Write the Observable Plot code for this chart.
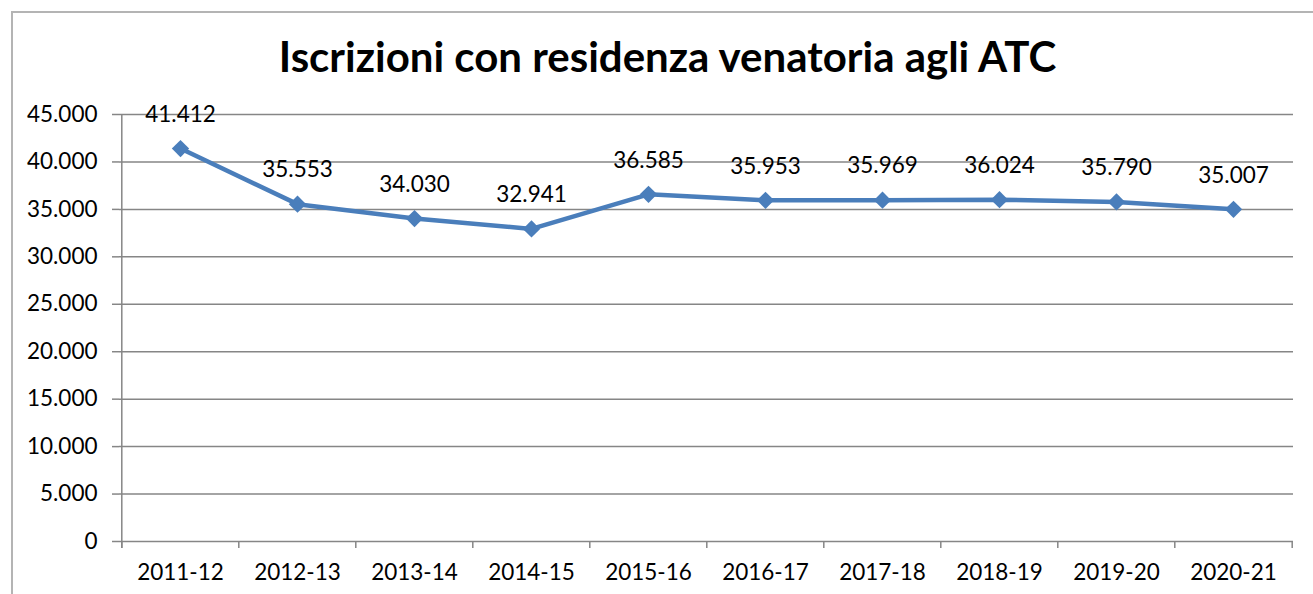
<!DOCTYPE html>
<html>
<head>
<meta charset="utf-8">
<script src="https://cdn.jsdelivr.net/npm/d3@7"></script>
<script src="https://cdn.jsdelivr.net/npm/@observablehq/plot@0.6"></script>
<style>
  body { margin: 0; background: #fff; }
  #wrap { position: relative; width: 1313px; height: 594px; overflow: hidden; font-family: Lato, "Open Sans", sans-serif; }
  #frame { position: absolute; left: 11px; top: 11px; width: 1400px; height: 700px; border: 2px solid #b4b4b4; box-sizing: border-box; }
  #title { position: absolute; left: 11px; width: 1313px; top: 32px; text-align: center; font-weight: 700; font-size: 42px; line-height: 48px; color: #000; }
  #chart { position: absolute; left: 0; top: 0; }
</style>
</head>
<body>
<div id="wrap">
  <div id="frame"></div>
  <div id="title">Iscrizioni con residenza venatoria agli ATC</div>
  <div id="chart"></div>
</div>
<script>
const seasons = ["2011-12","2012-13","2013-14","2014-15","2015-16","2016-17","2017-18","2018-19","2019-20","2020-21"];
const values = [41412, 35553, 34030, 32941, 36585, 35953, 35969, 36024, 35790, 35007];
const yTicks = [0, 5000, 10000, 15000, 20000, 25000, 30000, 35000, 40000, 45000];

const data = seasons.map((s, i) => ({season: s, value: values[i]}));
const it = d3.formatLocale({decimal: ",", thousands: ".", grouping: [3], currency: ["€", ""]});
const fmt = it.format(",d");

const W = 1313, H = 594;
const mL = 119, mR = 20, mT = 114, mB = 53;
const step = (W - mL - mR) / seasons.length;
const grid = "#868686";
const blue = "#4A7EBB";
const fs = 22.5;
const tickBelow = -740; // small extension below the zero line for category ticks

const plot = Plot.plot({
  width: W,
  height: H,
  marginLeft: mL,
  marginRight: mR,
  marginTop: mT,
  marginBottom: mB,
  style: {background: "transparent", fontFamily: "Lato, 'Open Sans', sans-serif", color: "#000", overflow: "visible"},
  x: {type: "point", domain: seasons, padding: 0.5},
  y: {domain: [0, 45000]},
  marks: [
    Plot.gridY(yTicks, {stroke: grid, strokeOpacity: 1, strokeWidth: 1.5}),
    Plot.axisY(yTicks, {tickFormat: fmt, tickSize: 7, tickPadding: 15, fontSize: fs, stroke: grid, strokeWidth: 1.5, label: null, fill: "#000"}),
    Plot.ruleX([seasons[0]], {dx: -step / 2, y1: tickBelow, y2: 45000, stroke: grid, strokeWidth: 1.5}),
    Plot.ruleX(seasons, {dx: -step / 2, y1: tickBelow, y2: 0, stroke: grid, strokeWidth: 1.5}),
    Plot.ruleX([seasons[seasons.length - 1]], {dx: step / 2, y1: tickBelow, y2: 0, stroke: grid, strokeWidth: 1.5}),
    Plot.axisX({tickSize: 0, tickPadding: 23, fontSize: fs, label: null, fill: "#000"}),
    Plot.line(data, {x: "season", y: "value", stroke: blue, strokeWidth: 4.5}),
    Plot.dot(data, {x: "season", y: "value", symbol: "diamond2", r: 7.8, fill: blue, stroke: "none"}),
    Plot.text(data, {x: "season", y: "value", text: d => fmt(d.value), dy: -34, fontSize: fs, fill: "#000"})
  ]
});
document.getElementById("chart").appendChild(plot);
</script>
</body>
</html>
